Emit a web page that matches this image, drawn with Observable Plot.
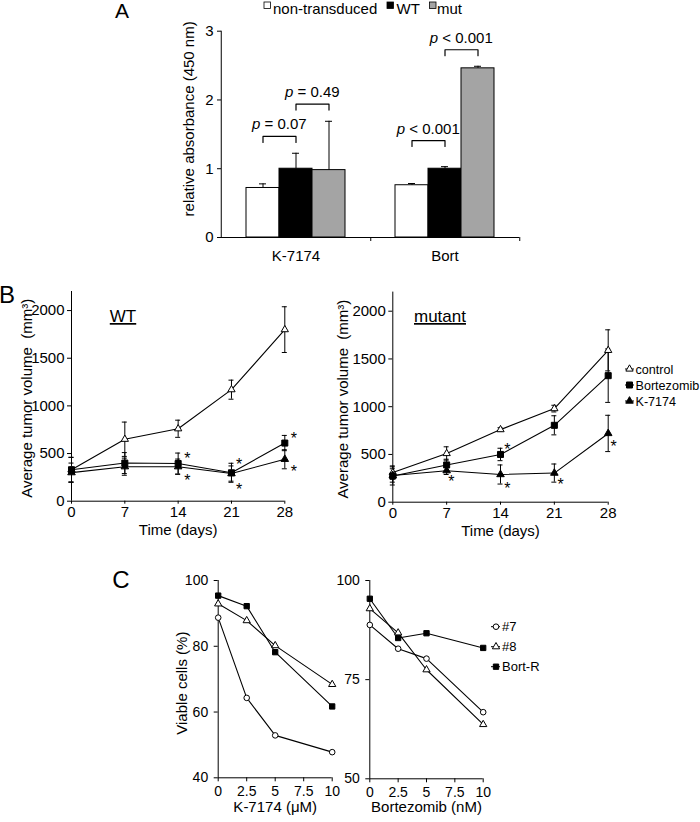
<!DOCTYPE html>
<html><head><meta charset="utf-8">
<script src="https://cdn.jsdelivr.net/npm/d3@7"></script>
<script src="https://cdn.jsdelivr.net/npm/@observablehq/plot@0.6"></script>
<style>
body{margin:0;background:#fff;}
#root{position:relative;width:700px;height:822px;overflow:hidden;background:#fff;color:#000;}
</style></head><body><div id="root"></div>
<script>
// ---------------- Panel A data
const absCategories = ["K-7174", "Bort"];
const absGroups = ["non-transduced", "WT", "mut"];
const absColors = ["white", "black", "#a4a4a4"];
const absNonTransduced = [0.72, 0.76];
const absWT = [1.00, 1.00];
const absMut = [0.98, 2.46];
const absErrNonTransduced = [0.06, 0.025];
const absErrWT = [0.225, 0.03];
const absErrMut = [0.71, 0.03];
const absTicks = [0, 1, 2, 3];
const pLabels = ["p = 0.07", "p = 0.49", "p < 0.001", "p < 0.001"];
const pCategory = ["K-7174", "K-7174", "Bort", "Bort"];
const pFrom = ["non-transduced", "WT", "non-transduced", "WT"];
const pTo = ["WT", "mut", "WT", "mut"];
const pLevel = [1.47, 1.94, 1.41, 2.73];

// ---------------- Panel B data
const days = [0, 7, 14, 21, 28];
const tumorSeries = ["control", "Bortezomib", "K-7174"];
const tumorTicks = [0, 500, 1000, 1500, 2000];
const wtControl = [330, 650, 760, 1170, 1800];
const wtControlErr = [130, 180, 90, 100, 240];
const wtBortezomib = [330, 400, 395, 298, 610];
const wtBortezomibErr = [130, 110, 110, 100, 80];
const wtK7174 = [300, 362, 362, 290, 440];
const wtK7174Err = [100, 90, 80, 80, 100];
const wtStarDays = [15.2, 15.2, 22.0, 22.0, 29.2, 29.2];
const wtStarValues = [487, 252, 427, 165, 700, 350];
const mutControl = [310, 510, 760, 980, 1590];
const mutControlErr = [70, 70, 20, 35, 215];
const mutBortezomib = [275, 390, 500, 805, 1325];
const mutBortezomibErr = [95, 60, 65, 100, 280];
const mutK7174 = [280, 330, 290, 305, 720];
const mutK7174Err = [70, 40, 100, 95, 190];
const mutStarDays = [7.6, 14.9, 14.9, 21.8, 28.7];
const mutStarValues = [252, 594, 185, 227, 622];

// ---------------- Panel C data
const viabilitySeries = ["#7", "#8", "Bort-R"];
const k7174Doses = [0, 2.5, 5, 10];
const k7174Line7 = [88.7, 64.3, 52.9, 47.8];
const k7174Line8 = [92.9, 87.8, 80.2, 68.4];
const k7174BortR = [95.4, 92.2, 78.2, 61.7];
const bortDoses = [0, 2.5, 5, 10];
const bortLine7 = [88.8, 82.8, 80.3, 66.8];
const bortLine8 = [92.9, 86.8, 77.5, 63.7];
const bortBortR = [95.4, 85.5, 86.7, 83.0];
const doseTicks = [0, 2.5, 5, 7.5, 10];
const k7174ViaTicks = [40, 60, 80, 100];
const bortViaTicks = [50, 75, 100];

// ---------------- helpers
const FONT = '"Liberation Sans", Arial, Helvetica, sans-serif';
const root = document.getElementById("root");
const baseStyle = {background: "transparent", overflow: "visible", fontFamily: FONT, fontSize: "15px", color: "black"};
const fmt = d => String(d);
function place(el, left, top) {
  const div = document.createElement("div");
  div.style.position = "absolute"; div.style.left = left + "px"; div.style.top = top + "px";
  div.appendChild(el); root.appendChild(div); return el;
}
const tumorMarks = {
  "control": {symbol: "triangle", r: 2.7, fill: "white"},
  "Bortezomib": {symbol: "square", r: 3.4, fill: "black"},
  "K-7174": {symbol: "triangle", r: 2.8, fill: "black"}
};
const viaMarks = {
  "#7": {symbol: "circle", r: 2.8, fill: "white"},
  "#8": {symbol: "triangle", r: 2.7, fill: "white"},
  "Bort-R": {symbol: "square", r: 3.0, fill: "black"}
};
const yTitle = {frameAnchor: "left", rotate: -90, textAnchor: "middle", lineAnchor: "middle", fontSize: 15};
const xTitle = {frameAnchor: "bottom", textAnchor: "middle", lineAnchor: "middle", fontSize: 15};

// ---------------- Panel A
const absRows = [];
const absSeries = [absNonTransduced, absWT, absMut];
const absErrs = [absErrNonTransduced, absErrWT, absErrMut];
absCategories.forEach((c, i) => absGroups.forEach((g, j) =>
  absRows.push({category: c, group: g, value: absSeries[j][i], err: absErrs[j][i]})));
const LEG = 0.087;
const bracketPts = [];
pLabels.forEach((t, k) => {
  bracketPts.push(
    {id: k, category: pCategory[k], group: pFrom[k], y: pLevel[k] - LEG},
    {id: k, category: pCategory[k], group: pFrom[k], y: pLevel[k]},
    {id: k, category: pCategory[k], group: pTo[k], y: pLevel[k]},
    {id: k, category: pCategory[k], group: pTo[k], y: pLevel[k] - LEG});
});
const pRows = pLabels.map((t, k) => ({text: t, category: pCategory[k], group: pTo[k], y: pLevel[k]}));

const A = {left: 150, top: 20, width: 380, height: 255, mL: 70, mR: 11, mT: 10.7, mB: 38};
const facetW = (A.width - A.mL - A.mR) / absCategories.length;
const barW = 33.5;
const plotA = Plot.plot({
  width: A.width, height: A.height,
  marginLeft: A.mL, marginRight: A.mR, marginTop: A.mT, marginBottom: A.mB,
  style: baseStyle,
  fx: {domain: absCategories, padding: 0, label: null},
  x: {domain: absGroups, paddingInner: 0, paddingOuter: 0.73, axis: null},
  y: {domain: [0, 3], axis: null},
  color: {domain: absGroups, range: absColors},
  marks: [
    Plot.axisY({ticks: absTicks, tickFormat: fmt, tickSize: 4, tickPadding: 4, fontSize: 15, label: null}),
    Plot.axisFx({anchor: "bottom", tickSize: 0, tickPadding: 13, fontSize: 15, label: null}),
    Plot.axisFx({anchor: "bottom", tickSize: 4, dx: facetW / 2, tickFormat: () => "", label: null}),
    Plot.ruleY([0]),
    Plot.ruleX([absCategories[0]], {fx: d => d, x: null, dx: -facetW / 2}),
    Plot.barY(absRows, {fx: "category", x: "group", y: "value", fill: "group", stroke: "black", strokeWidth: 1}),
    Plot.ruleX(absRows, {fx: "category", x: "group", y1: "value", y2: d => d.value + d.err, strokeWidth: 1}),
    Plot.tickY(absRows, {fx: "category", x: "group", y: d => d.value + d.err, insetLeft: 13, insetRight: 13, strokeWidth: 1}),
    Plot.line(bracketPts, {fx: "category", x: "group", y: "y", z: "id", stroke: "black", strokeWidth: 1.2}),
    Plot.text(pRows, {fx: "category", x: "group", y: "y", text: "text", dx: -barW / 2, dy: -7, lineAnchor: "bottom", fontSize: 15}),
    Plot.text([absCategories[0]], {fx: d => d, text: () => "relative absorbance (450 nm)", ...yTitle, dx: -32, dy: -15.5})
  ]
});
place(plotA, A.left, A.top);
plotA.querySelectorAll("text").forEach(t => {
  const s = t.textContent;
  if (/^p [=<]/.test(s)) {
    t.textContent = "";
    const ts = document.createElementNS("http://www.w3.org/2000/svg", "tspan");
    ts.setAttribute("font-style", "italic");
    ts.textContent = "p";
    t.appendChild(ts);
    t.appendChild(document.createTextNode(s.slice(1)));
  }
});

// ---------------- Panel B
function tumorPanel(cfg) {
  const rows = [];
  cfg.values.forEach((vals, s) => vals.forEach((v, i) =>
    rows.push({series: tumorSeries[s], day: days[i], value: v, err: cfg.errs[s][i]})));
  const stars = cfg.starDays.map((d, i) => ({day: d, value: cfg.starValues[i]}));
  const cap = {insetLeft: -2.5, insetRight: -2.5, strokeWidth: 1};
  return Plot.plot({
    width: cfg.width, height: cfg.height,
    marginLeft: cfg.mL, marginRight: cfg.mR, marginTop: cfg.mT, marginBottom: cfg.mB,
    style: baseStyle,
    x: {domain: [0, 28]}, y: {domain: [0, 2200]},
    marks: [
      Plot.axisX({ticks: days, tickFormat: fmt, tickSize: 3, tickPadding: 2, fontSize: 15, label: null}),
      Plot.axisY({ticks: tumorTicks, tickFormat: fmt, tickSize: 4, tickPadding: 3, fontSize: 15, label: null}),
      Plot.ruleX([0]), Plot.ruleY([0]),
      Plot.text(["Time (days)"], {text: d => d, ...xTitle, dy: 29}),
      Plot.text(["Average tumor volume  (mm³)"], {text: d => d, ...yTitle, dx: cfg.labelDx, dy: 2}),
      Plot.ruleX(rows, {x: "day", y1: d => d.value - d.err, y2: d => d.value + d.err, strokeWidth: 1}),
      Plot.ruleY(rows, {x1: "day", x2: "day", y: d => d.value + d.err, ...cap}),
      Plot.ruleY(rows, {x1: "day", x2: "day", y: d => d.value - d.err, ...cap}),
      Plot.line(rows, {x: "day", y: "value", z: "series", stroke: "black", strokeWidth: 1.1}),
      ...tumorSeries.map(s => Plot.dot(rows.filter(d => d.series === s),
        {x: "day", y: "value", symbol: tumorMarks[s].symbol, r: tumorMarks[s].r, fill: tumorMarks[s].fill, stroke: "black", strokeWidth: 1})),
      Plot.text(stars, {x: "day", y: "value", text: () => "*", fontSize: 16, dy: 4})
    ]
  });
}
place(tumorPanel({
  values: [wtControl, wtBortezomib, wtK7174], errs: [wtControlErr, wtBortezomibErr, wtK7174Err],
  starDays: wtStarDays, starValues: wtStarValues,
  width: 320, height: 260, mL: 71, mR: 35.7, mT: 11, mB: 39.3, labelDx: -44
}), 0, 280);
place(tumorPanel({
  values: [mutControl, mutBortezomib, mutK7174], errs: [mutControlErr, mutBortezomibErr, mutK7174Err],
  starDays: mutStarDays, starValues: mutStarValues,
  width: 370, height: 260, mL: 62.3, mR: 92.3, mT: 11.6, mB: 38.3, labelDx: -50
}), 330, 280);

// ---------------- Panel C
function viabilityPanel(cfg) {
  const rows = [];
  cfg.values.forEach((vals, s) => vals.forEach((v, i) =>
    rows.push({series: viabilitySeries[s], dose: cfg.doses[i], value: v})));
  const marks = [
    Plot.axisX({ticks: doseTicks, tickFormat: fmt, tickSize: 4, tickPadding: 4, fontSize: 14, label: null}),
    Plot.axisY({ticks: cfg.yTicks, tickFormat: fmt, tickSize: 4, tickPadding: 6, fontSize: 14, label: null}),
    Plot.ruleX([0]), Plot.ruleY([cfg.yDomain[0]]),
    Plot.text([cfg.xLabel], {text: d => d, ...xTitle, dy: cfg.xLabelDy}),
    Plot.line(rows, {x: "dose", y: "value", z: "series", stroke: "black", strokeWidth: 1.1}),
    ...viabilitySeries.map(s => Plot.dot(rows.filter(d => d.series === s),
      {x: "dose", y: "value", symbol: viaMarks[s].symbol, r: viaMarks[s].r, fill: viaMarks[s].fill, stroke: "black", strokeWidth: 1}))
  ];
  if (cfg.yLabel) marks.push(Plot.text([cfg.yLabel], {text: d => d, ...yTitle, dx: -36, dy: 4}));
  return Plot.plot({
    width: cfg.width, height: cfg.height,
    marginLeft: cfg.mL, marginRight: cfg.mR, marginTop: cfg.mT, marginBottom: cfg.mB,
    style: baseStyle,
    x: {domain: [0, 10]}, y: {domain: cfg.yDomain},
    marks
  });
}
place(viabilityPanel({
  values: [k7174Line7, k7174Line8, k7174BortR], doses: k7174Doses, yTicks: k7174ViaTicks, yDomain: [40, 100],
  xLabel: "K-7174 (μM)", xLabelDy: 29.7, yLabel: "Viable cells (%)",
  width: 230, height: 252, mL: 87.7, mR: 28.3, mT: 10, mB: 44.7
}), 130, 570);
place(viabilityPanel({
  values: [bortLine7, bortLine8, bortBortR], doses: bortDoses, yTicks: bortViaTicks, yDomain: [50, 100],
  xLabel: "Bortezomib (nM)", xLabelDy: 28.7, yLabel: null,
  width: 360, height: 252, mL: 29.3, mR: 217.3, mT: 10, mB: 43.7
}), 340, 570);

// ---------------- overlay: panel letters, titles, legends
const ov = d3.create("svg").attr("width", 700).attr("height", 822)
  .style("position", "absolute").style("left", "0px").style("top", "0px")
  .style("font-family", FONT).style("overflow", "visible");
ov.append("text").attr("x", 122).attr("y", 17.5).attr("text-anchor", "middle").attr("font-size", 21).text("A");
ov.append("text").attr("x", -1).attr("y", 303).attr("font-size", 24).text("B");
ov.append("text").attr("x", 121).attr("y", 588).attr("text-anchor", "middle").attr("font-size", 24).text("C");
ov.append("text").attr("x", 123).attr("y", 322).attr("text-anchor", "middle").attr("font-size", 17)
  .style("text-decoration", "underline").text("WT");
ov.append("text").attr("x", 440).attr("y", 322).attr("text-anchor", "middle").attr("font-size", 17)
  .style("text-decoration", "underline").text("mutant");

const legAX = [[264, 273], [387, 396.5], [429.5, 437]];
absGroups.forEach((g, j) => {
  ov.append("rect").attr("x", legAX[j][0]).attr("y", 2).attr("width", 6.5).attr("height", 6.5)
    .attr("fill", absColors[j]).attr("stroke", "black").attr("stroke-width", 0.8);
  ov.append("text").attr("x", legAX[j][1]).attr("y", 13.5).attr("font-size", 15).text(g);
});

const symType = {triangle: d3.symbolTriangle, square: d3.symbolSquare, circle: d3.symbolCircle};
function legendItem(x0, x1, xs, xt, y, m, label, fs) {
  ov.append("line").attr("x1", x0).attr("x2", x1).attr("y1", y).attr("y2", y).attr("stroke", "black");
  ov.append("path").attr("d", d3.symbol(symType[m.symbol], Math.PI * m.r * m.r)())
    .attr("transform", `translate(${xs},${y})`).attr("fill", m.fill).attr("stroke", "black");
  ov.append("text").attr("x", xt).attr("y", y + 4.5).attr("font-size", fs).text(label);
}
tumorSeries.forEach((s, i) => legendItem(625, 634, 629.5, 635.5, 369 + i * 16, tumorMarks[s], s, 12.6));
viabilitySeries.forEach((s, i) => legendItem(491, 500, 496, 502, 626.7 + i * 20, viaMarks[s], s, 13));
root.appendChild(ov.node());
</script></body></html>
